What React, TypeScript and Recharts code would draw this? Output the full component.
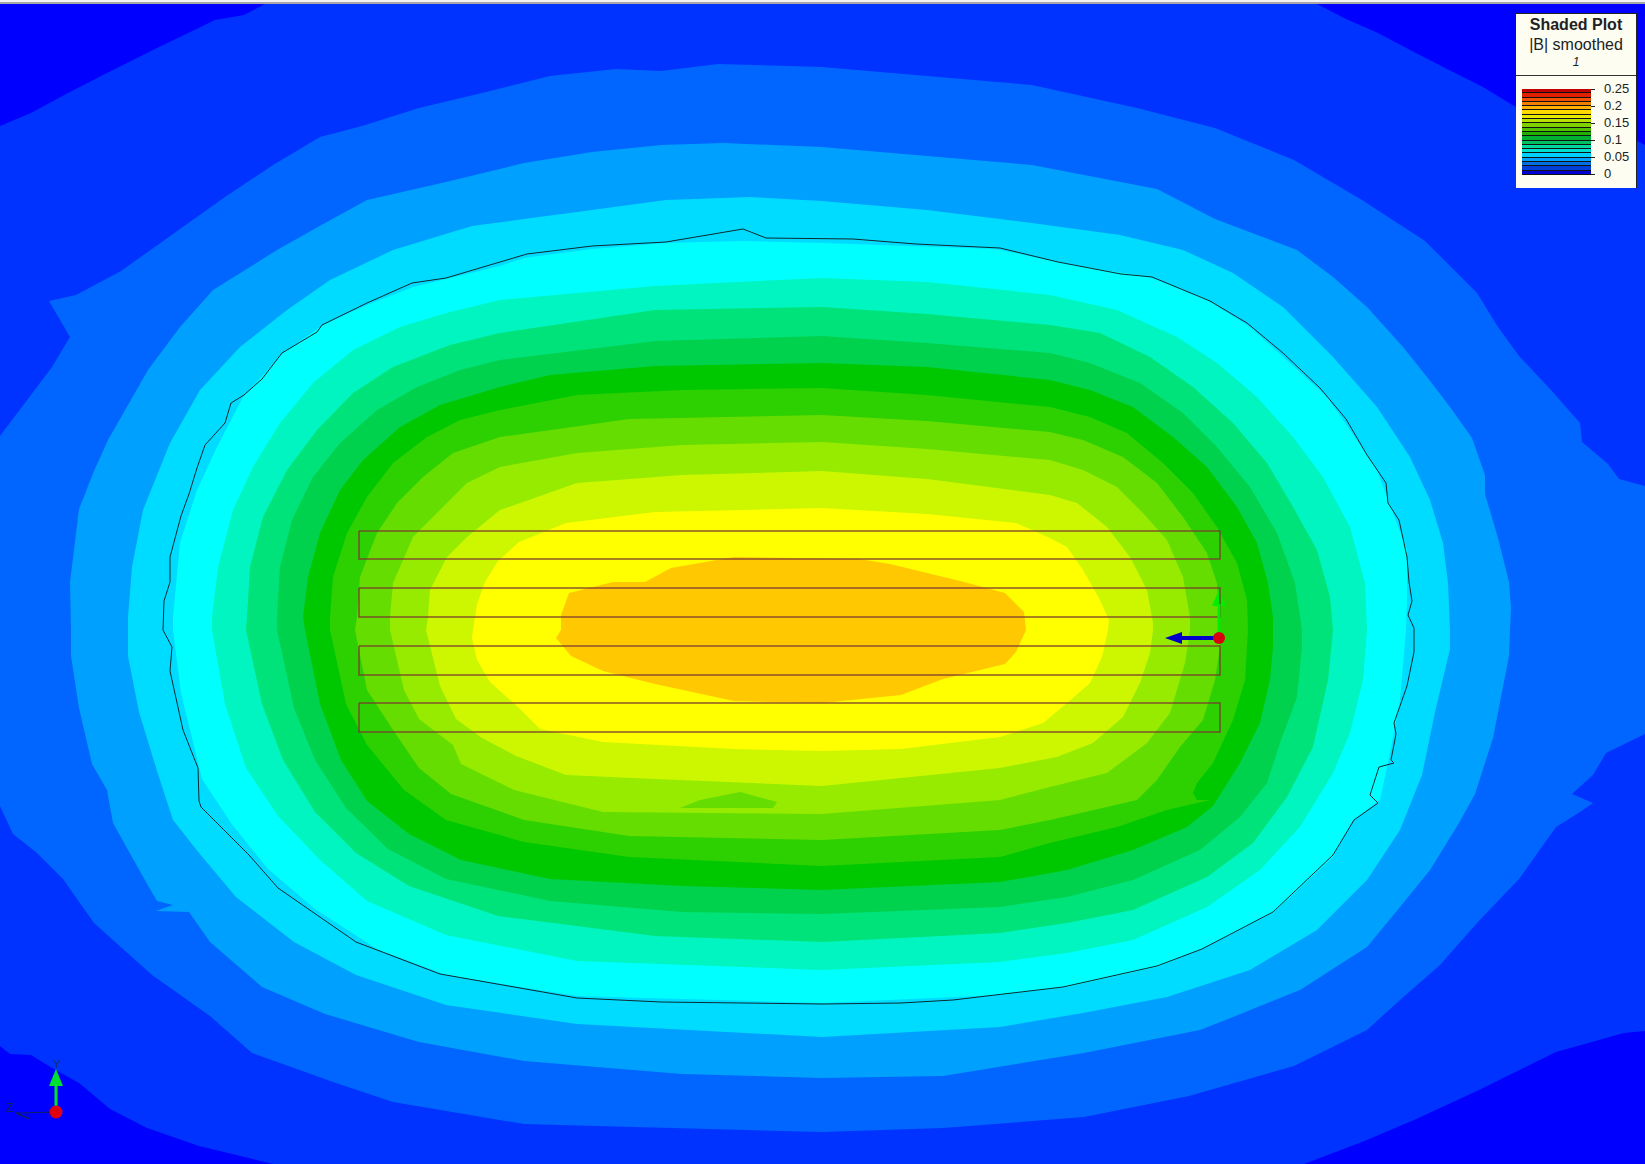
import React from 'react';
import { ComposedChart, Area, Line, XAxis, YAxis, ReferenceDot, ReferenceArea } from 'recharts';

type Pt = [number, number];

const WIDTH = 1645;
const HEIGHT = 1164;
// every contour is split into an upper and a lower half that meet on this row
const MID = 630;

const cornerTopLeft: Pt[] = [[0, 126], [31, 113], [68, 93], [105, 74], [157, 48], [215, 20], [244, 15], [265, 4], [273, 0]];
const cornerTopRight: Pt[] = [[1310, 0], [1317, 4], [1346, 19], [1378, 33], [1414, 52], [1451, 71], [1483, 87], [1514, 106], [1637, 141], [1645, 145]];
const cornerBottomLeft: Pt[] = [[0, 1046], [10, 1054], [31, 1055], [52, 1068], [79, 1083], [110, 1109], [147, 1128], [199, 1146], [273, 1164]];
const cornerBottomRight: Pt[] = [[1304, 1164], [1362, 1142], [1414, 1120], [1477, 1091], [1556, 1052], [1624, 1033], [1645, 1031]];

const level2Top: Pt[] = [[0, 436], [52, 367], [70, 337], [49, 301], [76, 295], [121, 271], [173, 234], [225, 197], [273, 165], [320, 137], [362, 126], [419, 108], [482, 93], [550, 76], [616, 69], [661, 71], [718, 64], [822, 67], [927, 76], [1032, 85], [1137, 108], [1215, 128], [1294, 160], [1362, 200], [1425, 241], [1477, 293], [1498, 327], [1519, 356], [1551, 390], [1580, 423], [1582, 442], [1608, 464], [1619, 479], [1645, 486]];
const level2Bottom: Pt[] = [[0, 806], [13, 834], [37, 853], [63, 879], [94, 923], [152, 975], [210, 1016], [252, 1053], [336, 1083], [393, 1102], [524, 1124], [822, 1132], [943, 1128], [1084, 1117], [1189, 1096], [1294, 1066], [1367, 1030], [1400, 1000], [1440, 965], [1477, 923], [1519, 879], [1556, 827], [1580, 812], [1593, 803], [1572, 794], [1593, 775], [1606, 753], [1645, 734]];

const level3Top: Pt[] = [[71, 630], [70, 582], [79, 509], [94, 471], [108, 440], [148, 370], [180, 327], [213, 290], [277, 250], [325, 223], [367, 200], [446, 182], [524, 163], [592, 152], [661, 145], [723, 143], [822, 147], [927, 156], [1032, 165], [1157, 189], [1215, 219], [1297, 250], [1333, 277], [1367, 307], [1403, 347], [1427, 377], [1450, 407], [1472, 438], [1485, 475], [1485, 494], [1498, 538], [1509, 582], [1511, 608], [1510, 630]];
const level3Bottom: Pt[] = [[71, 630], [71, 656], [79, 708], [92, 764], [107, 790], [113, 823], [142, 875], [157, 901], [173, 905], [156, 911], [189, 912], [210, 942], [262, 987], [325, 1014], [419, 1042], [524, 1061], [682, 1074], [822, 1078], [943, 1076], [1084, 1053], [1200, 1030], [1233, 1017], [1300, 990], [1367, 947], [1400, 907], [1430, 870], [1459, 823], [1475, 794], [1493, 738], [1509, 656], [1510, 630]];

const level4Top: Pt[] = [[128, 630], [128, 617], [132, 567], [143, 510], [170, 443], [200, 390], [240, 347], [287, 310], [330, 280], [393, 250], [472, 226], [524, 219], [577, 212], [666, 200], [750, 197], [822, 201], [927, 210], [1032, 223], [1120, 235], [1183, 250], [1233, 273], [1283, 307], [1333, 357], [1377, 407], [1410, 457], [1430, 500], [1443, 543], [1448, 583], [1450, 630]];
const level4Bottom: Pt[] = [[128, 630], [128, 656], [139, 712], [157, 771], [173, 820], [199, 853], [236, 897], [294, 942], [356, 975], [446, 1005], [577, 1024], [822, 1037], [1000, 1027], [1083, 1013], [1167, 997], [1250, 970], [1317, 930], [1367, 880], [1400, 830], [1422, 775], [1435, 712], [1450, 649], [1450, 630]];

const level5Top: Pt[] = [[173, 630], [173, 617], [180, 543], [197, 490], [217, 447], [243, 397], [283, 353], [323, 325], [367, 305], [413, 287], [500, 266], [524, 258], [592, 249], [666, 243], [744, 241], [822, 243], [995, 249], [1084, 267], [1150, 277], [1207, 300], [1250, 327], [1290, 363], [1327, 397], [1350, 430], [1377, 470], [1393, 513], [1407, 550], [1407, 600], [1406, 630]];
const level5Bottom: Pt[] = [[173, 630], [181, 693], [202, 779], [231, 823], [267, 868], [315, 909], [377, 949], [446, 975], [577, 996], [822, 1003], [1000, 995], [1067, 987], [1157, 967], [1200, 950], [1273, 913], [1333, 857], [1353, 820], [1380, 800], [1390, 753], [1400, 700], [1406, 630]];

const level6Top: Pt[] = [[212, 630], [212, 617], [218, 567], [233, 510], [253, 467], [280, 423], [313, 383], [353, 350], [400, 327], [450, 312], [500, 300], [655, 286], [822, 278], [927, 282], [1050, 295], [1117, 310], [1177, 337], [1217, 363], [1257, 397], [1293, 437], [1323, 477], [1350, 527], [1365, 583], [1367, 630]];
const level6Bottom: Pt[] = [[212, 630], [225, 704], [246, 768], [278, 816], [320, 860], [367, 901], [446, 935], [577, 961], [822, 970], [1000, 962], [1067, 953], [1133, 940], [1207, 907], [1260, 870], [1300, 827], [1333, 773], [1350, 733], [1363, 680], [1367, 630]];

const level7Top: Pt[] = [[246, 630], [247, 617], [250, 567], [263, 517], [287, 470], [317, 430], [353, 393], [393, 367], [450, 345], [500, 333], [655, 310], [822, 307], [927, 314], [1050, 325], [1100, 333], [1150, 357], [1193, 387], [1233, 423], [1267, 463], [1293, 507], [1317, 550], [1330, 597], [1333, 630]];
const level7Bottom: Pt[] = [[246, 630], [262, 704], [283, 760], [315, 812], [356, 853], [409, 886], [498, 916], [655, 936], [822, 942], [1000, 933], [1067, 923], [1133, 910], [1207, 877], [1253, 843], [1287, 797], [1313, 747], [1328, 680], [1333, 630]];

const level8Top: Pt[] = [[277, 630], [277, 617], [280, 567], [292, 520], [313, 477], [340, 443], [377, 410], [417, 387], [460, 370], [500, 360], [655, 341], [822, 336], [927, 343], [1050, 353], [1090, 363], [1140, 383], [1183, 413], [1217, 447], [1250, 487], [1277, 533], [1295, 583], [1302, 630]];
const level8Bottom: Pt[] = [[277, 630], [294, 708], [315, 760], [346, 808], [388, 849], [446, 879], [550, 901], [682, 912], [822, 914], [1000, 907], [1067, 897], [1133, 880], [1200, 850], [1240, 817], [1267, 783], [1280, 743], [1297, 697], [1302, 647], [1302, 630]];

const level9Top: Pt[] = [[305, 630], [303, 617], [308, 577], [320, 533], [340, 490], [363, 460], [400, 427], [440, 405], [500, 387], [550, 375], [655, 366], [822, 363], [927, 367], [1050, 380], [1090, 390], [1133, 407], [1173, 437], [1207, 467], [1237, 507], [1257, 543], [1268, 583], [1273, 617], [1273, 630]];
const level9Bottom: Pt[] = [[305, 630], [320, 704], [341, 760], [367, 801], [409, 834], [461, 860], [550, 879], [682, 886], [822, 890], [1000, 882], [1067, 870], [1133, 850], [1187, 827], [1213, 806], [1240, 763], [1260, 723], [1270, 680], [1273, 647], [1273, 630]];

const level10Top: Pt[] = [[330, 630], [330, 617], [333, 577], [347, 533], [367, 497], [393, 463], [427, 437], [460, 420], [500, 410], [577, 395], [682, 390], [822, 388], [927, 395], [1050, 407], [1090, 417], [1127, 433], [1163, 463], [1193, 493], [1217, 527], [1237, 563], [1247, 600], [1248, 630]];
const level10Bottom: Pt[] = [[330, 630], [346, 704], [367, 745], [404, 790], [446, 820], [524, 842], [629, 857], [822, 866], [1000, 857], [1050, 843], [1117, 827], [1167, 810], [1210, 800], [1197, 800], [1193, 793], [1197, 783], [1213, 763], [1233, 720], [1245, 680], [1248, 630]];

const level11Top: Pt[] = [[355, 630], [357, 617], [360, 577], [377, 533], [397, 503], [423, 477], [453, 453], [500, 437], [629, 419], [822, 415], [927, 421], [1050, 432], [1083, 440], [1123, 457], [1157, 483], [1183, 517], [1207, 553], [1217, 583], [1220, 630]];
const level11Bottom: Pt[] = [[355, 630], [367, 690], [393, 730], [419, 768], [451, 794], [524, 820], [629, 836], [822, 840], [1000, 830], [1050, 820], [1107, 807], [1137, 800], [1157, 780], [1180, 747], [1203, 720], [1215, 680], [1220, 647], [1220, 630]];

const level12Top: Pt[] = [[390, 630], [390, 617], [393, 583], [413, 537], [437, 513], [467, 483], [500, 467], [577, 453], [682, 445], [822, 442], [927, 449], [1050, 460], [1083, 470], [1117, 487], [1143, 513], [1167, 540], [1183, 577], [1190, 617], [1190, 630]];
const level12Bottom: Pt[] = [[390, 630], [404, 690], [419, 719], [453, 745], [461, 764], [514, 790], [603, 812], [822, 814], [1000, 800], [1050, 787], [1107, 773], [1147, 743], [1170, 713], [1185, 663], [1190, 630]];
const level12Island: Pt[] = [[680, 808], [700, 800], [740, 792], [777, 802], [773, 808]];

const level13Top: Pt[] = [[426, 630], [428, 617], [430, 590], [447, 557], [467, 537], [500, 510], [577, 483], [682, 475], [822, 471], [927, 479], [1050, 495], [1077, 503], [1107, 527], [1130, 557], [1147, 590], [1153, 623], [1153, 630]];
const level13Bottom: Pt[] = [[426, 630], [440, 686], [456, 719], [482, 738], [516, 756], [566, 775], [655, 779], [822, 786], [1000, 768], [1057, 757], [1093, 743], [1123, 717], [1140, 683], [1150, 653], [1153, 630]];

const level14Top: Pt[] = [[473, 630], [477, 604], [485, 582], [498, 561], [519, 542], [566, 523], [655, 512], [822, 508], [927, 514], [1016, 523], [1050, 538], [1067, 547], [1083, 570], [1100, 600], [1109, 620], [1108, 630]];
const level14Bottom: Pt[] = [[473, 630], [472, 638], [477, 660], [490, 682], [519, 708], [540, 729], [603, 742], [734, 749], [822, 751], [901, 749], [1000, 737], [1043, 723], [1067, 703], [1090, 683], [1102, 657], [1108, 630]];

const level15Top: Pt[] = [[561, 630], [561, 615], [569, 593], [613, 582], [645, 582], [671, 568], [734, 557], [859, 559], [890, 564], [964, 582], [1005, 593], [1024, 612], [1026, 630]];
const level15Bottom: Pt[] = [[561, 630], [556, 638], [571, 656], [603, 671], [655, 684], [734, 701], [822, 703], [901, 695], [943, 679], [1005, 664], [1016, 652], [1026, 630]];

const levelColors = ['#0066ff', '#00a0ff', '#00dcff', '#00ffff', '#00f5c0', '#00e37a', '#00d24e', '#00c800', '#2dd000', '#66dd00', '#96eb00', '#ccf700', '#ffff00', '#ffc800'];
const levelTops = [level2Top, level3Top, level4Top, level5Top, level6Top, level7Top, level8Top, level9Top, level10Top, level11Top, level12Top, level13Top, level14Top, level15Top];
const levelBottoms = [level2Bottom, level3Bottom, level4Bottom, level5Bottom, level6Bottom, level7Bottom, level8Bottom, level9Bottom, level10Bottom, level11Bottom, level12Bottom, level13Bottom, level14Bottom, level15Bottom];

// the thin black solid outline
const outline: Pt[] = [[163, 630], [164, 601], [170, 582], [170, 557], [181, 516], [189, 494], [197, 468], [205, 445], [225, 423], [231, 403], [244, 395], [262, 379], [282, 353], [317, 332], [322, 325], [367, 303], [412, 283], [446, 278], [527, 254], [592, 246], [666, 242], [743, 229], [766, 238], [853, 239], [916, 244], [1000, 248], [1058, 262], [1121, 274], [1152, 277], [1210, 301], [1247, 323], [1283, 353], [1320, 388], [1346, 419], [1367, 455], [1386, 483], [1388, 503], [1399, 520], [1407, 557], [1409, 582], [1412, 601], [1408, 615], [1414, 628], [1414, 652], [1407, 686], [1394, 723], [1396, 734], [1391, 760], [1394, 763], [1379, 767], [1370, 795], [1378, 803], [1354, 820], [1333, 855], [1273, 912], [1202, 949], [1157, 966], [1063, 987], [953, 1000], [901, 1003], [822, 1004], [661, 1002], [577, 998], [440, 974], [356, 942], [278, 888], [249, 855], [201, 807], [199, 801], [198, 768], [183, 730], [170, 671], [172, 647], [163, 630]];

const coilLeft = 359;
const coilRight = 1220;
const coilRows: Pt[] = [[531, 559], [588, 617], [646, 675], [703, 732]];

const triadXShaft: Pt[] = [[1180, 638], [1219, 638]];
const triadXHeadUpper: Pt[] = [[1165, 638], [1182, 632], [1182, 638]];
const triadXHeadLower: Pt[] = [[1165, 638], [1182, 644], [1182, 638]];
const triadYShaft: Pt[] = [[1219, 604], [1219, 638]];
const triadYHead: Pt[] = [[1212, 606], [1219, 590], [1226, 606]];
const cornerYShaft: Pt[] = [[56, 1084], [56, 1112]];
const cornerYHead: Pt[] = [[49, 1086], [56, 1069], [63, 1086]];
const cornerZShaft: Pt[] = [[16, 1113], [56, 1112]];
const cornerZBarb: Pt[] = [[16, 1113], [30, 1119]];

const rulerTicks = [14, 43, 71, 100, 128, 157, 186, 214, 243, 271, 300, 329, 357, 386, 414, 443, 472, 500, 529, 557, 586, 615, 643, 672, 700, 729, 758, 786, 815, 843, 872, 901, 929, 958, 986, 1015, 1044, 1072, 1101, 1129, 1158, 1187, 1215, 1244, 1272, 1301, 1330, 1358, 1387, 1415, 1444, 1473, 1501, 1530, 1558, 1587, 1616, 1644];

const legendColors = ['#c00000', '#e02000', '#f05000', '#f08000', '#ffb000', '#ffd800', '#e8e800', '#b8e000', '#80d000', '#50c000', '#20b000', '#00b030', '#00c060', '#00d8a0', '#00e0d0', '#00d0ff', '#00a0ff', '#0070e0', '#0040d8', '#0000d0'];
const legendLabels = ['0.25', '0.2', '0.15', '0.1', '0.05', '0'];

const toBand = (pts: Pt[], base: number) => pts.map(([x, y]) => ({ x, band: [base, y] }));
const toPath = (pts: Pt[]) => pts.map(([x, y]) => ({ x, y }));

function fillArea(key: string, pts: Pt[], base: number, fill: string) {
  return (
    <Area
      key={key}
      data={toBand(pts, base)}
      dataKey="band"
      type="linear"
      stroke="none"
      fill={fill}
      fillOpacity={1}
      dot={false}
      activeDot={false}
      isAnimationActive={false}
    />
  );
}

function pathLine(key: string, pts: Pt[], stroke: string, strokeWidth: number, opacity = 1) {
  return (
    <Line
      key={key}
      data={toPath(pts)}
      dataKey="y"
      type="linear"
      stroke={stroke}
      strokeWidth={strokeWidth}
      strokeOpacity={opacity}
      dot={false}
      activeDot={false}
      isAnimationActive={false}
    />
  );
}

function ShadedLegend() {
  const font = '"Liberation Sans", Arial, sans-serif';
  return (
    <div style={{ position: 'absolute', left: 1516, top: 13, width: 121, height: 175, background: '#fdfdf2', borderTop: '1px solid #222', borderRight: '1px solid #222', boxSizing: 'border-box', fontFamily: font, color: '#222' }}>
      <div style={{ height: 59, borderBottom: '1px solid #333', textAlign: 'center', boxSizing: 'content-box' }}>
        <div style={{ fontWeight: 700, fontSize: 16, lineHeight: '18px', marginTop: 2 }}>Shaded Plot</div>
        <div style={{ fontSize: 16, lineHeight: '18px', marginTop: 2 }}>|B| smoothed</div>
        <div style={{ fontSize: 12, lineHeight: '15px', fontStyle: 'italic', marginTop: 1 }}>1</div>
      </div>
      <div style={{ position: 'absolute', left: 6, top: 75, width: 69, height: 86, background: '#111' }}>
        {legendColors.map((c) => (
          <div key={c} style={{ height: 3.3, marginBottom: 1, background: c }} />
        ))}
      </div>
      {legendLabels.map((label, i) => (
        <React.Fragment key={label}>
          <div style={{ position: 'absolute', left: 75, top: 75 + i * 17, width: 4, height: 1, background: '#222' }} />
          <div style={{ position: 'absolute', left: 88, top: 67 + i * 17, fontSize: 13, lineHeight: '15px' }}>{label}</div>
        </React.Fragment>
      ))}
    </div>
  );
}

export default function App() {
  return (
    <div style={{ position: 'absolute', left: 0, top: 0, width: WIDTH, height: HEIGHT, overflow: 'hidden', background: '#0033ff' }}>
      <ComposedChart width={WIDTH} height={HEIGHT} margin={{ top: 0, right: 0, bottom: 0, left: 0 }}>
        <YAxis hide type="number" domain={[0, HEIGHT]} reversed allowDataOverflow />

        {fillArea('tl', cornerTopLeft, 0, '#0000ff')}
        {fillArea('tr', cornerTopRight, 0, '#0000ff')}
        {fillArea('bl', cornerBottomLeft, HEIGHT, '#0000ff')}
        {fillArea('br', cornerBottomRight, HEIGHT, '#0000ff')}

        {levelColors.flatMap((fill, i) => [
          fillArea(`top${i}`, levelTops[i], MID, fill),
          fillArea(`bottom${i}`, levelBottoms[i], MID, fill),
        ])}
        {fillArea('island', level12Island, 808, '#66dd00')}

        {pathLine('outline', outline, '#0c2a30', 1)}

        {coilRows.map(([top, bottom], i) =>
          pathLine(
            `coil${i}`,
            [[coilLeft, top], [coilRight, top], [coilRight, bottom], [coilLeft, bottom], [coilLeft, top]],
            '#7a3a30',
            1.5,
            0.85,
          ),
        )}

        {pathLine('yShaft', triadYShaft, '#00ee00', 3)}
        {fillArea('yHead', triadYHead, 606, '#00ee00')}
        {pathLine('xShaft', triadXShaft, '#0000c8', 4)}
        {fillArea('xHeadU', triadXHeadUpper, 638, '#0000c8')}
        {fillArea('xHeadL', triadXHeadLower, 638, '#0000c8')}
        <ReferenceDot x={1219} y={638} r={6} fill="#d80010" stroke="none" ifOverflow="visible" />

        {pathLine('cornerZ', cornerZShaft, '#102060', 1)}
        {pathLine('cornerZBarb', cornerZBarb, '#102060', 1.5)}
        {pathLine('cornerY', cornerYShaft, '#00e030', 3)}
        {fillArea('cornerYHead', cornerYHead, 1086, '#00e030')}
        <ReferenceDot x={56} y={1112} r={6.5} fill="#e00010" stroke="none" ifOverflow="visible" />
        <ReferenceDot x={57} y={1064} r={0} stroke="none" label={{ value: 'Y', fill: '#15306a', fontSize: 11, fontFamily: '"Liberation Sans"' }} />
        <ReferenceDot x={10} y={1108} r={0} stroke="none" label={{ value: 'Z', fill: '#10205a', fontSize: 12, fontFamily: '"Liberation Sans"' }} />

        <ReferenceArea x1={0} x2={WIDTH} y1={0} y2={2} fill="#f2f2f2" fillOpacity={1} stroke="none" />
        <ReferenceArea x1={0} x2={WIDTH} y1={2} y2={4} fill="#a8a8a8" fillOpacity={1} stroke="none" />
        <XAxis
          dataKey="x"
          type="number"
          orientation="top"
          mirror
          domain={[0, WIDTH]}
          ticks={rulerTicks}
          tick={false}
          tickSize={3}
          axisLine={false}
          tickLine={{ stroke: '#777' }}
          allowDataOverflow
        />
      </ComposedChart>
      <ShadedLegend />
    </div>
  );
}
